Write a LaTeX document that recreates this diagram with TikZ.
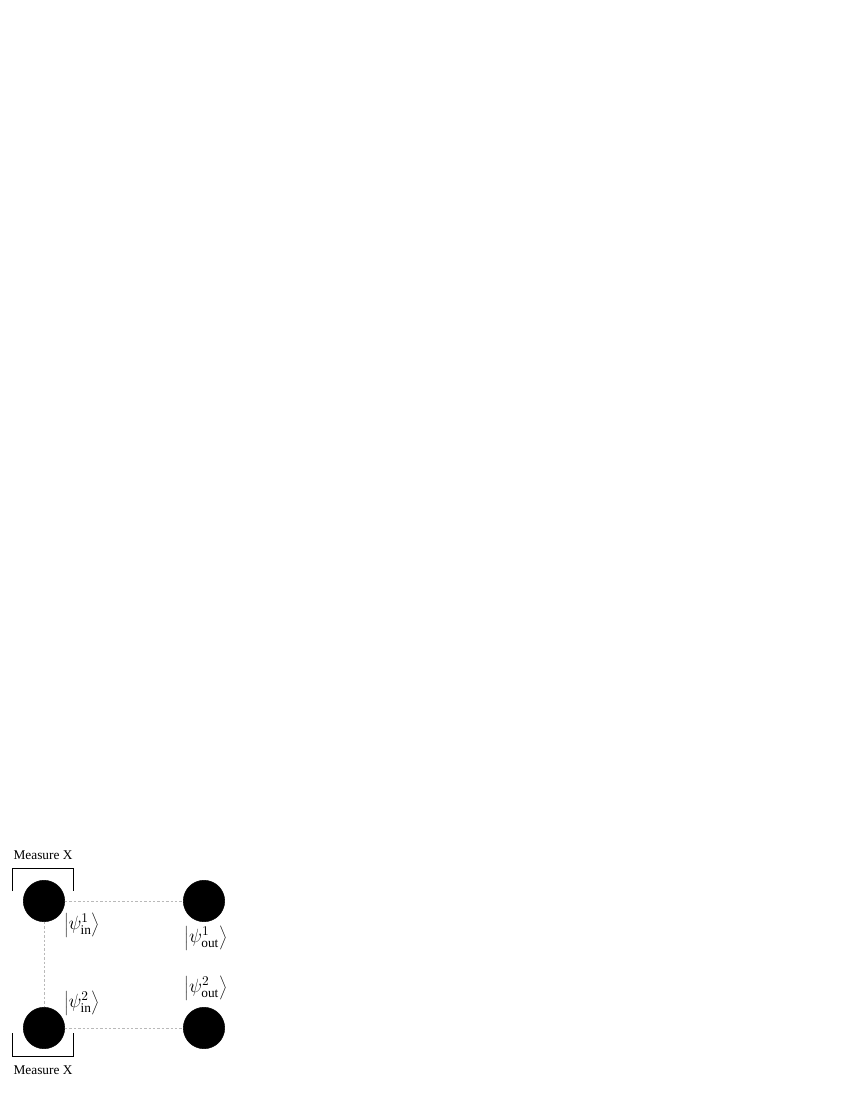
\documentclass[tikz,border=0pt]{standalone}
\usepackage{fontspec}
\setmainfont{Liberation Serif}
\usetikzlibrary{positioning}

\begin{document}
\begin{tikzpicture}[x=0.75pt, y=-0.75pt,
        qubit/.style={draw, circle, fill=black, minimum size=31pt, inner sep=0pt},
        link/.style={draw=gray!55, dash pattern=on 1.8pt off 1.5pt, line width=0.5pt},
        bracket/.style={draw, line width=0.6pt},
        ket/.style={inner sep=0pt, font=\Large}
    ]
        \useasboundingbox (0,0) rectangle (850,1100);

        % Qubits
        \node[qubit] (in1) at (44,901) {};
        \node[qubit] (out1) at (204,901) {};
        \node[qubit] (in2) at (44,1028) {};
        \node[qubit] (out2) at (204,1028) {};

        % Links
        \draw[link] (in1) -- (out1);
        \draw[link] (in1) -- (in2);
        \draw[link] (in2) -- (out2);

        % States
        \node[ket] (kin1) at (82,925) {$\left|\psi^{1}_{\mathrm{in}}\right\rangle$};
        \node[ket] (kout1) at (206,938) {$\left|\psi^{1}_{\mathrm{out}}\right\rangle$};
        \node[ket] (kin2) at (82,1003) {$\left|\psi^{2}_{\mathrm{in}}\right\rangle$};
        \node[ket] (kout2) at (206,988) {$\left|\psi^{2}_{\mathrm{out}}\right\rangle$};

        % Measurements
        \node (mtop) at (43,855) {Measure X};
        \draw[bracket] (12,891) -- (12,868) -- (73,868) -- (73,891);
        \node (mbot) at (43,1070) {Measure X};
        \draw[bracket] (12,1033) -- (12,1056) -- (73,1056) -- (73,1033);

    \end{tikzpicture}
\end{document}
